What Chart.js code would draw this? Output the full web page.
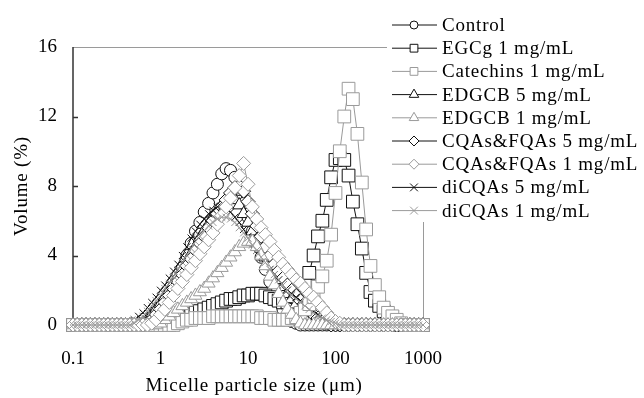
<!DOCTYPE html>
<html>
<head>
<meta charset="utf-8">
<script src="https://cdn.jsdelivr.net/npm/chart.js@4.4.1/dist/chart.umd.min.js"></script>
<style>
  html, body { margin: 0; padding: 0; background: #fff; }
  #wrap { width: 644px; height: 398px; }
</style>
</head>
<body>
<div id="wrap"><canvas id="micelleChart" width="644" height="398"></canvas></div>
<script>
// particle size classes (µm), 20 per decade
const sizes = [
  0.1, 0.112, 0.126, 0.141, 0.158, 0.178, 0.2, 0.224, 0.251, 0.282,
  0.316, 0.355, 0.398, 0.447, 0.501, 0.562, 0.631, 0.708, 0.794, 0.891,
  1, 1.12, 1.26, 1.41, 1.58, 1.78, 2, 2.24, 2.51, 2.82,
  3.16, 3.55, 3.98, 4.47, 5.01, 5.62, 6.31, 7.08, 7.94, 8.91,
  10, 11.2, 12.6, 14.1, 15.8, 17.8, 20, 22.4, 25.1, 28.2,
  31.6, 35.5, 39.8, 44.7, 50.1, 56.2, 63.1, 70.8, 79.4, 89.1,
  100, 112, 126, 141, 158, 178, 200, 224, 251, 282,
  316, 355, 398, 447, 501, 562, 631, 708, 794, 891,
  1000
];

// volume (%) per size class
const control = [
  0, 0, 0, 0, 0, 0, 0, 0, 0, 0,
  0, 0, 0, 0, 0, 0, 0, 0, 0, 0.2,
  0.5, 0.9, 1.4, 2.0, 2.6, 3.3, 4.0, 4.7, 5.4, 5.9,
  6.5, 7.0, 7.6, 8.1, 8.7, 9.0, 8.9, 8.5, 7.8, 7.0,
  6.2, 5.4, 4.6, 3.9, 3.2, 2.5, 1.9, 1.4, 0.9, 0.5,
  0.2, 0.1, 0, 0, 0, 0, 0, 0, 0, 0,
  0, 0, 0, 0, 0, 0, 0, 0, 0, 0,
  0, 0, 0, 0, 0, 0, 0, 0, 0, 0,
  0
];
const egcg1 = [
  0, 0, 0, 0, 0, 0, 0, 0, 0, 0,
  0, 0, 0, 0, 0, 0, 0, 0, 0, 0,
  0, 0, 0, 0.1, 0.3, 0.4, 0.5, 0.6, 0.7, 0.8,
  0.9, 1.0, 1.1, 1.2, 1.3, 1.4, 1.5, 1.5, 1.6, 1.7,
  1.7, 1.8, 1.8, 1.8, 1.7, 1.6, 1.5, 1.4, 1.3, 1.3,
  1.4, 1.6, 1.9, 2.3, 3.0, 4.0, 5.1, 6.0, 7.2, 8.5,
  9.5, 9.6, 9.5, 8.6, 7.1, 5.8, 4.4, 3.0, 1.9, 1.4,
  1.1, 0.8, 0.5, 0.3, 0.1, 0, 0, 0, 0, 0,
  0
];
const catechins1 = [
  0, 0, 0, 0, 0, 0, 0, 0, 0, 0,
  0, 0, 0, 0, 0, 0, 0, 0, 0, 0,
  0, 0, 0, 0, 0.1, 0.2, 0.3, 0.3, 0.4, 0.4,
  0.4, 0.4, 0.5, 0.5, 0.5, 0.5, 0.5, 0.5, 0.5, 0.5,
  0.5, 0.5, 0.5, 0.4, 0.4, 0.4, 0.3, 0.3, 0.3, 0.3,
  0.4, 0.5, 0.7, 0.9, 1.2, 1.6, 2.2, 2.8, 3.7, 5.2,
  7.6, 10.0, 12.0, 13.6, 13.0, 11.0, 8.2, 5.5, 3.4, 2.3,
  1.6, 1.0, 0.7, 0.5, 0.3, 0.1, 0, 0, 0, 0,
  0
];
const edgcb5 = [
  0, 0, 0, 0, 0, 0, 0, 0, 0, 0,
  0, 0, 0, 0, 0, 0, 0.1, 0.3, 0.6, 0.9,
  1.2, 1.6, 2.0, 2.4, 2.8, 3.2, 3.6, 4.1, 4.5, 5.0,
  5.4, 5.8, 6.2, 6.6, 6.9, 7.2, 7.3, 7.2, 6.9, 6.4,
  5.9, 5.4, 4.9, 4.4, 3.9, 3.5, 3.0, 2.6, 2.2, 1.8,
  1.5, 1.2, 0.9, 0.7, 0.5, 0.3, 0.2, 0.1, 0, 0,
  0, 0, 0, 0, 0, 0, 0, 0, 0, 0,
  0, 0, 0, 0, 0, 0, 0, 0, 0, 0,
  0
];
const edgcb1 = [
  0, 0, 0, 0, 0, 0, 0, 0, 0, 0,
  0, 0, 0, 0, 0, 0, 0, 0, 0, 0,
  0.1, 0.3, 0.5, 0.7, 0.9, 1.1, 1.3, 1.5, 1.7, 1.9,
  2.1, 2.4, 2.7, 3.0, 3.3, 3.6, 3.9, 4.2, 4.5, 4.7,
  4.8, 4.8, 4.5, 4.0, 3.4, 2.8, 2.3, 1.8, 1.3, 0.9,
  0.6, 0.3, 0.1, 0, 0, 0, 0, 0, 0, 0,
  0, 0, 0, 0, 0, 0, 0, 0, 0, 0,
  0, 0, 0, 0, 0, 0, 0, 0, 0, 0,
  0
];
const cqas5 = [
  0, 0, 0, 0, 0, 0, 0, 0, 0, 0,
  0, 0, 0, 0, 0, 0, 0, 0.1, 0.3, 0.6,
  0.9, 1.3, 1.7, 2.1, 2.5, 2.9, 3.4, 3.8, 4.3, 4.7,
  5.1, 5.6, 6.0, 6.4, 6.8, 7.2, 7.6, 7.9, 8.0, 7.7,
  7.1, 6.4, 5.7, 5.1, 4.5, 4.0, 3.5, 3.1, 2.7, 2.3,
  2.0, 1.7, 1.4, 1.1, 0.8, 0.6, 0.4, 0.2, 0.1, 0,
  0, 0, 0, 0, 0, 0, 0, 0, 0, 0,
  0, 0, 0, 0, 0, 0, 0, 0, 0, 0,
  0
];
const cqas1 = [
  0, 0, 0, 0, 0, 0, 0, 0, 0, 0,
  0, 0, 0, 0, 0, 0, 0, 0, 0.1, 0.3,
  0.6, 0.9, 1.3, 1.7, 2.1, 2.5, 2.9, 3.3, 3.7, 4.1,
  4.5, 4.9, 5.3, 5.8, 6.3, 6.8, 7.3, 7.9, 8.6, 9.3,
  8.1, 6.8, 6.1, 5.6, 5.2, 4.8, 4.3, 3.9, 3.5, 3.2,
  2.9, 2.6, 2.4, 2.1, 1.8, 1.6, 1.3, 1.0, 0.7, 0.4,
  0.2, 0.1, 0, 0, 0, 0, 0, 0, 0, 0,
  0, 0, 0, 0, 0, 0, 0, 0, 0, 0,
  0
];
const dicqas5 = [
  0, 0, 0, 0, 0, 0, 0, 0, 0, 0,
  0, 0, 0, 0.1, 0.3, 0.5, 0.7, 1.0, 1.3, 1.6,
  2.0, 2.3, 2.7, 3.1, 3.5, 4.0, 4.5, 5.0, 5.4, 5.8,
  6.1, 6.4, 6.6, 6.8, 6.8, 6.7, 6.5, 6.2, 5.9, 5.5,
  5.1, 4.7, 4.3, 3.9, 3.5, 3.2, 2.9, 2.6, 2.3, 2.0,
  1.8, 1.6, 1.4, 1.2, 1.0, 0.8, 0.6, 0.4, 0.3, 0.2,
  0.1, 0, 0, 0, 0, 0, 0, 0, 0, 0,
  0, 0, 0, 0, 0, 0, 0, 0, 0, 0,
  0
];
const dicqas1 = [
  0, 0, 0, 0, 0, 0, 0, 0, 0, 0,
  0, 0, 0, 0, 0.1, 0.3, 0.5, 0.8, 1.1, 1.4,
  1.7, 2.1, 2.4, 2.8, 3.2, 3.6, 4.0, 4.4, 4.8, 5.1,
  5.4, 5.7, 5.9, 6.1, 6.2, 6.2, 6.1, 5.9, 5.6, 5.3,
  5.0, 4.6, 4.3, 3.9, 3.6, 3.2, 2.9, 2.6, 2.3, 2.0,
  1.7, 1.5, 1.3, 1.1, 0.9, 0.7, 0.5, 0.4, 0.3, 0.2,
  0.1, 0, 0, 0, 0, 0, 0, 0, 0, 0,
  0, 0, 0, 0, 0, 0, 0, 0, 0, 0,
  0
];

const seriesNames = [
  "Control", "EGCg 1 mg/mL", "Catechins 1 mg/mL",
  "EDGCB 5 mg/mL", "EDGCB 1 mg/mL",
  "CQAs&FQAs 5 mg/mL", "CQAs&FQAs 1 mg/mL",
  "diCQAs 5 mg/mL", "diCQAs 1 mg/mL"
];
const seriesValues = [control, egcg1, catechins1, edgcb5, edgcb1, cqas5, cqas1, dicqas5, dicqas1];
const xTicks = [0.1, 1, 10, 100, 1000];
const yTicks = [0, 4, 8, 12, 16];

const black = "#111";
const grey = "#9a9a9a";
const serif = "'Liberation Serif', 'Times New Roman', serif";
const seriesColors = [black, black, grey, black, grey, black, grey, black, grey];
const seriesMarkers = ["circle", "rect", "rect", "triangle", "triangle", "rectRot", "rectRot", "crossRot", "crossRot"];
// draw order: black curves underneath, grey curves on top (lower = later)
const seriesOrder = [9, 8, 4, 7, 3, 6, 2, 5, 1];
const markerRadius = { circle: 6, rect: 9, triangle: 7.5, rectRot: 7, crossRot: 5 };
const legendRadius = { circle: 4, rect: 5.5, triangle: 5.5, rectRot: 5, crossRot: 5.5 };

// plot box in canvas pixels
const plotLeft = 73, plotRight = 423, plotTop = 47, plotBottom = 325;

Chart.defaults.font.family = serif;
Chart.defaults.color = "#000";

const datasets = seriesNames.map((name, i) => ({
  label: name,
  data: sizes.map((x, j) => ({ x: x, y: seriesValues[i][j] })),
  borderColor: seriesColors[i],
  borderWidth: 1,
  pointStyle: seriesMarkers[i],
  pointRadius: markerRadius[seriesMarkers[i]],
  pointBorderWidth: 1,
  pointBorderColor: seriesColors[i],
  pointBackgroundColor: "#fff",
  tension: 0,
  clip: false,
  order: seriesOrder[i]
}));

// axis lines, inner tick marks and the grey frame, under the data
const framePlugin = {
  id: "frame",
  beforeDatasetsDraw(chart) {
    const ctx = chart.ctx;
    const y = chart.scales.y;
    ctx.save();
    ctx.strokeStyle = grey;
    ctx.lineWidth = 1;
    ctx.beginPath();
    ctx.moveTo(plotLeft, plotTop + 0.5);
    ctx.lineTo(plotRight + 0.5, plotTop + 0.5);
    ctx.lineTo(plotRight + 0.5, plotBottom);
    ctx.stroke();
    ctx.strokeStyle = "#333";
    ctx.lineWidth = 1.5;
    ctx.beginPath();
    ctx.moveTo(plotLeft, plotTop);
    ctx.lineTo(plotLeft, plotBottom);
    yTicks.slice(1, -1).forEach(v => {
      const py = Math.round(y.getPixelForValue(v)) + 0.5;
      ctx.moveTo(plotLeft, py);
      ctx.lineTo(plotLeft + 5, py);
    });
    ctx.stroke();
    ctx.restore();
  }
};

// axis titles and the boxed legend at the top right
const labelsPlugin = {
  id: "labels",
  afterDraw(chart) {
    const ctx = chart.ctx;
    ctx.save();
    ctx.fillStyle = "#000";
    ctx.font = "19px " + serif;
    ctx.letterSpacing = "0.8px";
    ctx.textAlign = "center";
    ctx.textBaseline = "middle";
    ctx.fillText("Micelle particle size (μm)", 254, 386);
    ctx.save();
    ctx.translate(22, 186);
    ctx.rotate(-Math.PI / 2);
    ctx.fillText("Volume (%)", 0, 0);
    ctx.restore();

    ctx.fillStyle = "#fff";
    ctx.fillRect(387, 0, 644 - 387, 222);
    ctx.textAlign = "left";
    seriesNames.forEach((name, i) => {
      const ly = 25 + i * 23.2;
      ctx.strokeStyle = seriesColors[i];
      ctx.lineWidth = 1;
      ctx.beginPath();
      ctx.moveTo(392, ly);
      ctx.lineTo(437, ly);
      ctx.stroke();
      ctx.fillStyle = "#fff";
      Chart.helpers.drawPoint(ctx, {
        pointStyle: seriesMarkers[i],
        radius: legendRadius[seriesMarkers[i]],
        borderWidth: 1,
        rotation: 0
      }, 414, ly);
      ctx.fillStyle = "#000";
      ctx.fillText(name, 442, ly + 1);
    });
    ctx.restore();
  }
};

new Chart(document.getElementById("micelleChart"), {
  type: "line",
  data: { datasets: datasets },
  options: {
    responsive: false,
    animation: false,
    layout: { padding: { left: 0, top: plotTop, right: 644 - plotRight, bottom: 0 } },
    plugins: { legend: { display: false }, tooltip: { enabled: false } },
    scales: {
      x: {
        type: "logarithmic",
        min: 0.1,
        max: 1000,
        afterBuildTicks: s => { s.ticks = xTicks.map(v => ({ value: v })); },
        afterFit: s => { s.height = 398 - plotBottom; },
        ticks: {
          autoSkip: false,
          maxRotation: 0,
          padding: 23,
          font: { size: 19 },
          callback: v => String(v)
        },
        grid: { display: false, drawTicks: false },
        border: { display: false }
      },
      y: {
        min: 0,
        max: 16,
        afterBuildTicks: s => { s.ticks = yTicks.map(v => ({ value: v })); },
        afterFit: s => { s.width = plotLeft; },
        ticks: { padding: 16, font: { size: 19 } },
        grid: { display: false, drawTicks: false },
        border: { display: false }
      }
    }
  },
  plugins: [framePlugin, labelsPlugin]
});
</script>
</body>
</html>
